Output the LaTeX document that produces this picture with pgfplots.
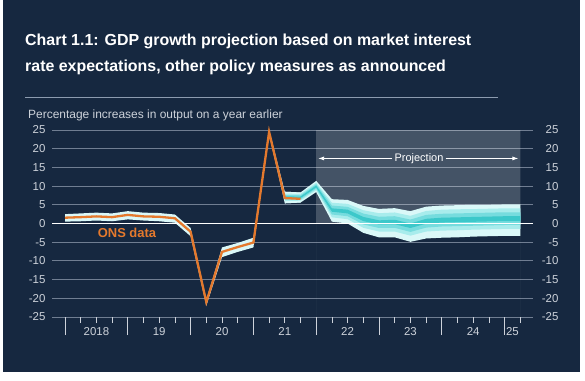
\documentclass[border=0pt]{standalone}
\usepackage{fontspec}
\setmainfont{Liberation Sans}
\usepackage{pgfplots}
\usepackage{pgfplotstable}
\pgfplotsset{compat=1.18}
\usetikzlibrary{arrows.meta}
\definecolor{navy}{RGB}{22,40,64}
\definecolor{gridcol}{RGB}{112,126,146}
\definecolor{labc}{RGB}{205,210,218}
\definecolor{ons}{RGB}{228,121,45}
\definecolor{fan1}{RGB}{60,200,202}
\definecolor{fan2}{RGB}{118,220,222}
\definecolor{fan3}{RGB}{168,236,236}
\definecolor{fan4}{RGB}{218,248,248}
\definecolor{rulec}{RGB}{140,155,175}

% ONS data (annual growth, %)
\pgfplotstableread{
t v
2018.00 1.55
2018.25 1.7
2018.50 1.9
2018.75 1.7
2019.00 2.3
2019.25 1.9
2019.50 1.8
2019.75 1.4
2020.00 -2.2
2020.25 -21.0
2020.50 -7.6
2020.75 -6.3
2021.00 -5.1
2021.25 24.5
2021.50 6.8
2021.75 6.6
}\onsdata

% backcast band around ONS data: upper edge forward, lower edge back
\pgfplotstableread{
t y
2018.00 2.5
2018.25 2.7
2018.50 2.9
2018.75 2.7
2019.00 3.3
2019.25 2.9
2019.50 2.8
2019.75 2.4
2020.00 -1.2
2020.25 -20.5
2020.50 -6.4
2020.75 -5.2
2021.00 -3.8
2021.25 25.0
2021.50 8.5
2021.75 8.3
2021.75 5.6
2021.50 5.4
2021.25 23.8
2021.00 -6.4
2020.75 -7.6
2020.50 -9.0
2020.25 -22.0
2020.00 -3.4
2019.75 0.2
2019.50 0.6
2019.25 0.8
2019.00 1.1
2018.75 0.6
2018.50 0.8
2018.25 0.6
2018.00 0.5
}\histband

% fan bands: upper edge forward, lower edge back
\pgfplotstableread{
t y
2021.50 8.5
2021.75 8.3
2022.00 11.4
2022.25 6.5
2022.50 6.3
2022.75 4.7
2023.00 3.9
2023.25 4.1
2023.50 3.3
2023.75 4.5
2024.00 4.8
2024.25 4.9
2024.50 5.0
2024.75 5.0
2025.00 5.1
2025.25 5.1
2025.25 -3.3
2025.00 -3.3
2024.75 -3.4
2024.50 -3.5
2024.25 -3.7
2024.00 -3.8
2023.75 -4.0
2023.50 -4.9
2023.25 -3.7
2023.00 -3.7
2022.75 -2.5
2022.50 0.0
2022.25 0.5
2022.00 8.4
2021.75 5.6
2021.50 5.4
}\fanout

\pgfplotstableread{
t y
2021.50 8.0
2021.75 7.9
2022.00 10.9
2022.25 5.55
2022.50 5.25
2022.75 3.55
2023.00 2.75
2023.25 2.95
2023.50 2.05
2023.75 3.35
2024.00 3.7
2024.25 3.8
2024.50 3.85
2024.75 3.95
2025.00 4.05
2025.25 4.05
2025.25 -1.45
2025.00 -1.45
2024.75 -1.55
2024.50 -1.65
2024.25 -1.8
2024.00 -1.9
2023.75 -2.15
2023.50 -3.25
2023.25 -2.15
2023.00 -2.15
2022.75 -1.15
2022.50 1.15
2022.25 1.65
2022.00 8.9
2021.75 6.1
2021.50 6.0
}\fanthree

\pgfplotstableread{
t y
2021.50 7.6
2021.75 7.55
2022.00 10.5
2022.25 4.8
2022.50 4.45
2022.75 2.65
2023.00 1.8
2023.25 1.95
2023.50 1.05
2023.75 2.3
2024.00 2.6
2024.25 2.7
2024.50 2.8
2024.75 2.9
2025.00 3.0
2025.25 3.0
2025.25 -0.4
2025.00 -0.4
2024.75 -0.5
2024.50 -0.6
2024.25 -0.7
2024.00 -0.8
2023.75 -1.1
2023.50 -2.25
2023.25 -1.15
2023.00 -1.2
2022.75 -0.25
2022.50 1.95
2022.25 2.4
2022.00 9.3
2021.75 6.45
2021.50 6.4
}\fantwo

\pgfplotstableread{
t y
2021.50 7.25
2021.75 7.2
2022.00 10.15
2022.25 4.05
2022.50 3.7
2022.75 1.75
2023.00 0.85
2023.25 1.0
2023.50 0.0
2023.75 1.25
2024.00 1.55
2024.25 1.65
2024.50 1.75
2024.75 1.85
2025.00 1.95
2025.25 1.95
2025.25 0.65
2025.00 0.65
2024.75 0.55
2024.50 0.45
2024.25 0.35
2024.00 0.25
2023.75 -0.05
2023.50 -1.2
2023.25 -0.2
2023.00 -0.25
2022.75 0.65
2022.50 2.7
2022.25 3.15
2022.00 9.65
2021.75 6.8
2021.50 6.75
}\fanone

\pgfplotsset{
  chartbox/.style={
    at={(52bp,64bp)}, anchor=south west, scale only axis,
    width=481bp, height=187bp,
    xmin=2017.793, xmax=2025.452, ymin=-25, ymax=25,
    axis line style={draw=none},
    /pgf/number format/assume math mode=true,
  },
}

\begin{document}
\begin{tikzpicture}
\fill[white] (0,0) rectangle (585bp,381bp);
\fill[navy] (3bp,9bp) rectangle (580bp,381bp);
\node[anchor=base west, white, inner sep=0pt, font=\bfseries\fontsize{16}{19}\selectfont] at (25bp,335.3bp) {Chart 1.1: GDP growth projection based on market interest};
\node[anchor=base west, white, inner sep=0pt, font=\bfseries\fontsize{16}{19}\selectfont] at (25bp,309.3bp) {rate expectations, other policy measures as announced};
\draw[rulec, line width=1.5bp] (25bp,283.7bp) -- (498bp,283.7bp);
\node[anchor=base west, labc, inner sep=0pt, font=\fontsize{12}{14}\selectfont] at (28bp,262bp) {Percentage increases in output on a year earlier};

% horizontal grid lines at -25,-20,...,25 (axis runs from 64bp to 251bp)
\foreach \gy in {64,82.7,101.4,120.1,138.8,176.2,194.9,213.6,232.3,251}{
  \draw[draw=gridcol, line width=0.9bp] (52bp,\gy bp) -- (533bp,\gy bp);
}

% left-hand labels
\begin{axis}[
  chartbox,
  xtick=\empty,
  ytick={-25,-20,...,25},
  major tick length=0pt,
  yticklabel style={labc, font=\fontsize{11.5}{13}\selectfont, xshift=-3bp},
]
\end{axis}

% data, x ticks and right-hand labels
\begin{axis}[
  chartbox,
  ytick={-25,-20,...,25},
  yticklabel pos=right,
  ytick style={draw=none},
  yticklabel style={labc, anchor=east, font=\fontsize{11.5}{13}\selectfont, xshift=29bp},
  xtick={2018,2019,...,2025},
  minor xtick={2018,2018.25,...,2025.25},
  xticklabels={},
  xtick align=outside, xtick pos=lower,
  major tick length=18bp, minor tick length=6bp,
  xtick style={labc, line width=0.7bp},
  extra x ticks={2018.5,2019.5,2020.5,2021.5,2022.5,2023.5,2024.5,2025.125},
  extra x tick labels={2018,19,20,21,22,23,24,25},
  extra x tick style={major tick length=0pt, tick style={draw=none}, xticklabel style={labc, font=\fontsize{11.5}{13}\selectfont, yshift=-7bp}},
  clip=false,
]
\addplot[draw=none, fill=white, fill opacity=0.2] coordinates {(2022,-25) (2022,25) (2025.25,25) (2025.25,-25)} \closedcycle;

\addplot[draw=none, fill=fan4] table[x=t,y=y]{\histband};
\addplot[draw=none, fill=fan4] table[x=t,y=y]{\fanout};
\addplot[draw=none, fill=fan3] table[x=t,y=y]{\fanthree};
\addplot[draw=none, fill=fan2] table[x=t,y=y]{\fantwo};
\addplot[draw=none, fill=fan1] table[x=t,y=y]{\fanone};

\draw[white, line width=1.3bp] (axis cs:2017.793,0) -- (axis cs:2025.452,0);

\addplot[ons, line width=2.3bp] table[x=t,y=v]{\onsdata};

\node[ons, font=\bfseries\fontsize{13}{15}\selectfont] at (axis cs:2018.987,-2.5) {ONS data};

\node[white, inner sep=2bp, font=\fontsize{11}{13}\selectfont] (P) at (axis cs:2023.637,17.4) {Projection};
\draw[white, line width=0.8bp, -{Latex[length=6bp,width=4bp]}] (P.west) -- (axis cs:2022.03,17.4);
\draw[white, line width=0.8bp, -{Latex[length=6bp,width=4bp]}] (P.east) -- (axis cs:2025.22,17.4);
\end{axis}
\end{tikzpicture}
\end{document}
